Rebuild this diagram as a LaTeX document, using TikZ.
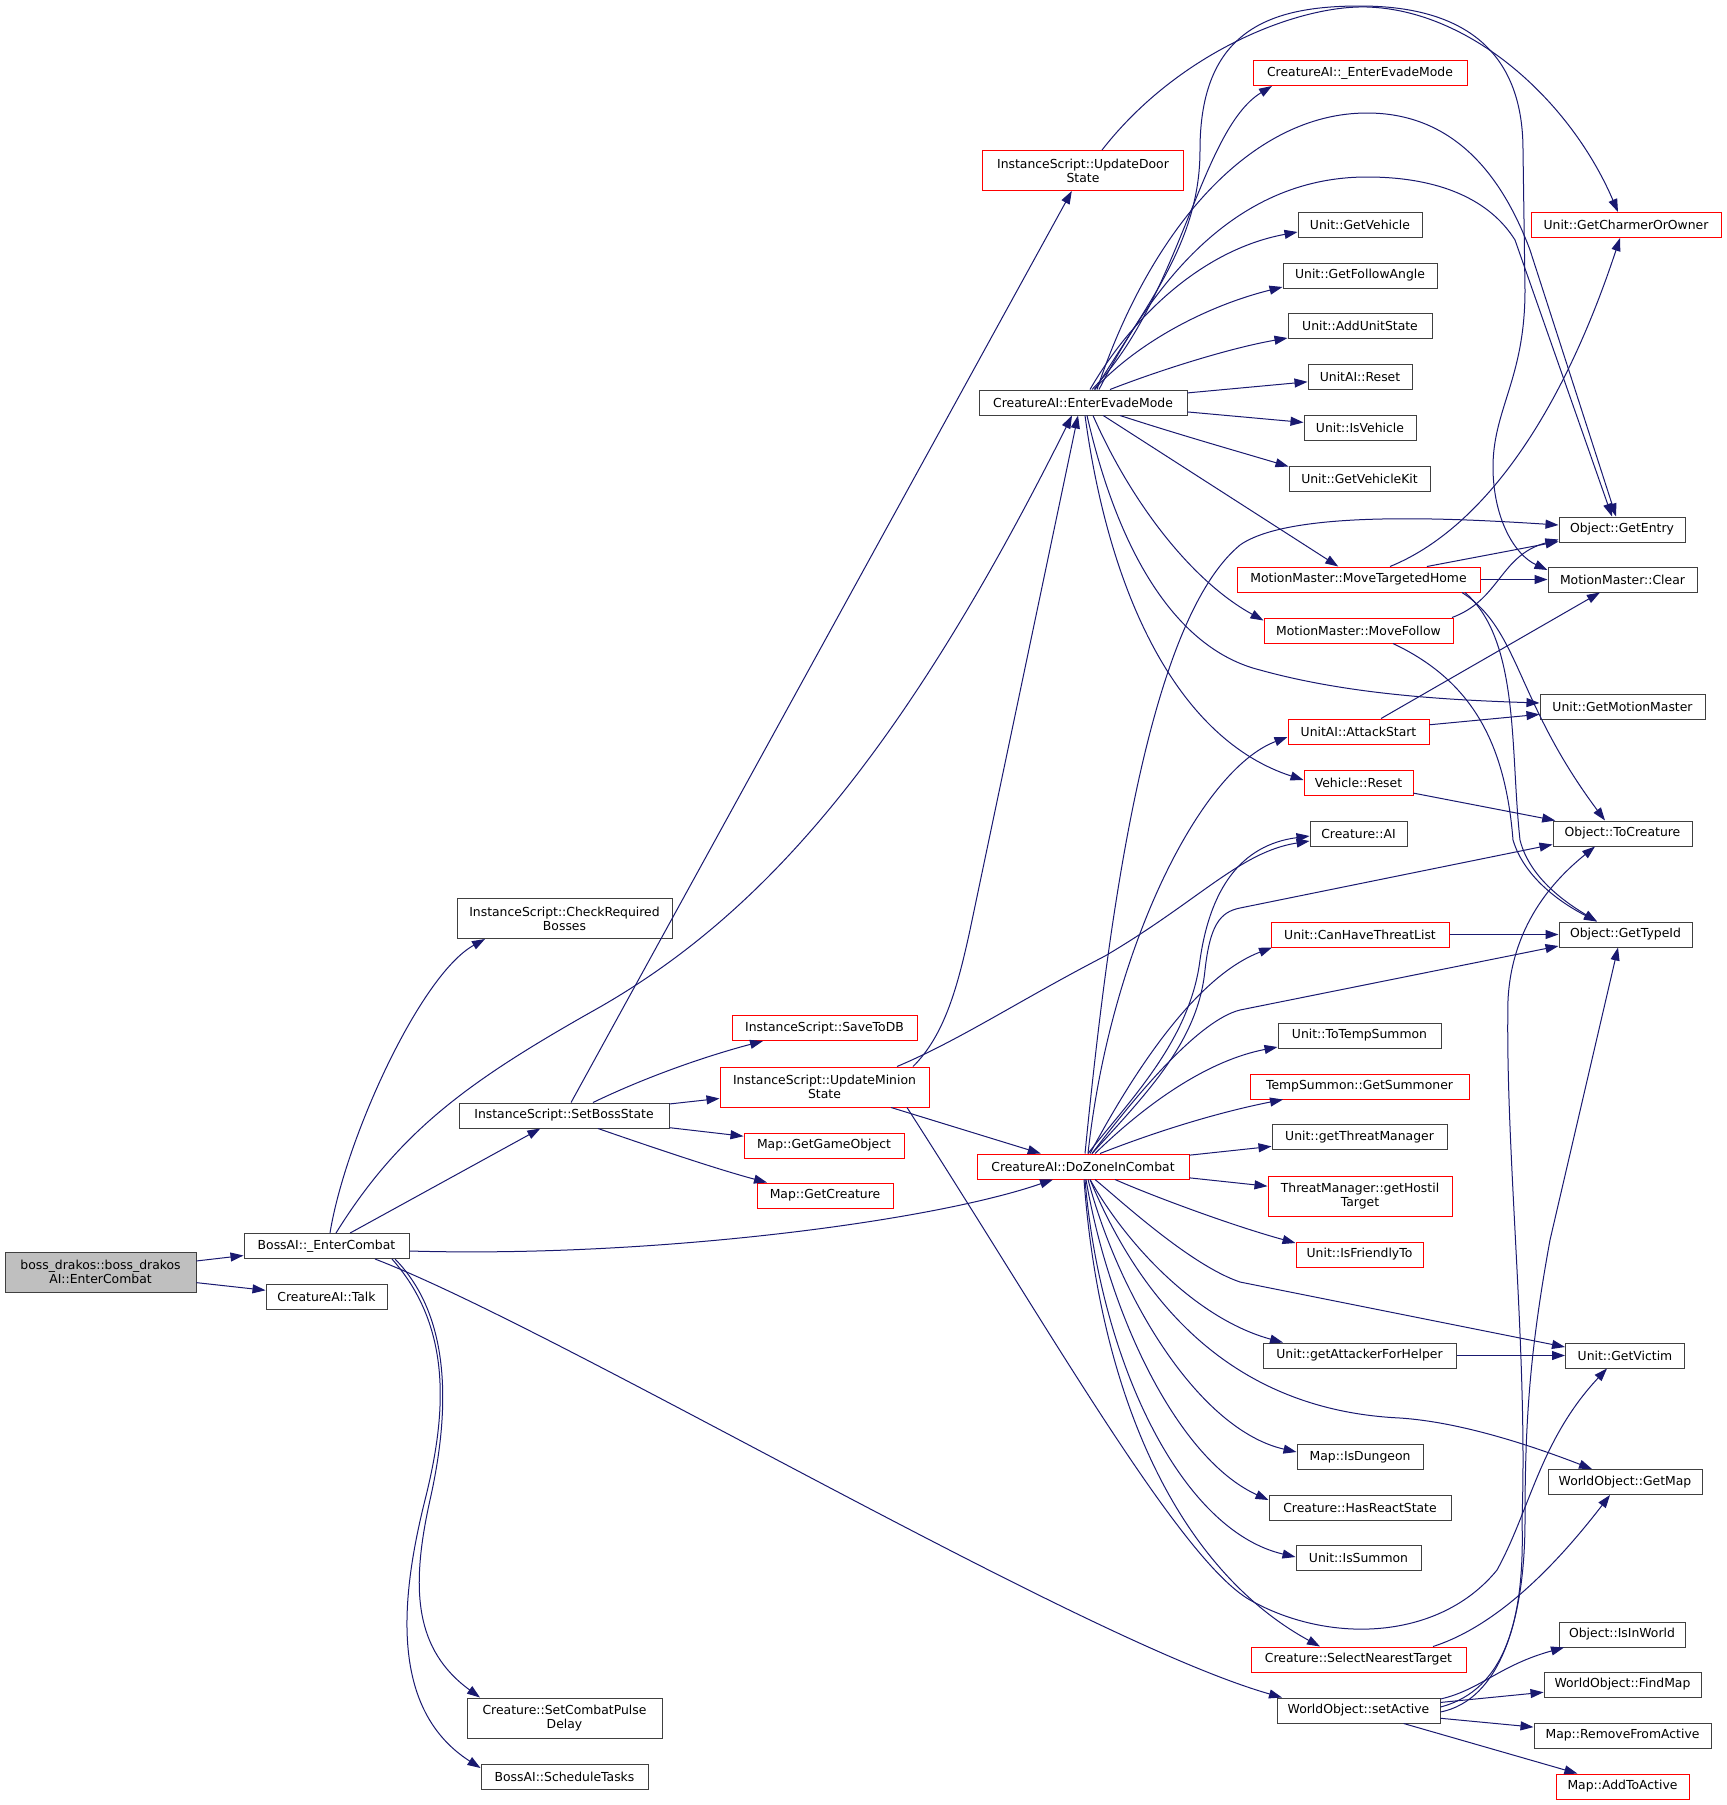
\documentclass[tikz,border=0pt]{standalone}
\usepackage{fontspec}
\setmainfont{DejaVu Sans}
\usetikzlibrary{arrows.meta}
\definecolor{edgeblue}{HTML}{191970}
\definecolor{nodeedge}{HTML}{404040}
\definecolor{rootgray}{HTML}{BFBFBF}
\definecolor{linkred}{HTML}{FF0000}

\begin{document}
\begin{tikzpicture}[x=1pt,y=-1pt,->,>={Triangle[length=13pt,width=9pt]},draw=edgeblue,line width=1pt,
    font=\fontsize{12.4}{14}\selectfont]
    \tikzstyle{func}=[draw=nodeedge,fill=white,minimum height=25pt,inner xsep=3pt,inner ysep=1pt,align=center]
    \tikzstyle{ref func}=[func,draw=linkred]
    \tikzstyle{root func}=[func,fill=rootgray]
    \tikzstyle{two lines}=[minimum height=40pt]
    \tikzset{wd/.style={minimum width=#1pt}}

    \useasboundingbox[fill=white] (0,0) rectangle (1727,1805);

    % Draw the caller and its direct callees
    \node[root func,two lines,wd=191] (root) at (100.5,1272) {boss\_drakos::boss\_drakos\\AI::EnterCombat};
    \node[func,wd=165] (bec) at (326.5,1246) {BossAI::\_EnterCombat};
    \node[func,wd=121] (talk) at (326.5,1297) {CreatureAI::Talk};

    % Draw the callees of BossAI::_EnterCombat
    \node[func,two lines,wd=215] (crb) at (564.5,918.5) {InstanceScript::CheckRequired\\Bosses};
    \node[func,wd=210] (sbs) at (564,1115.5) {InstanceScript::SetBossState};
    \node[func,two lines,wd=195] (cpd) at (564.5,1718) {Creature::SetCombatPulse\\Delay};
    \node[func,wd=167] (st) at (564.5,1777) {BossAI::ScheduleTasks};

    % Draw the callees of InstanceScript::SetBossState
    \node[ref func,wd=185] (sdb) at (824.5,1028) {InstanceScript::SaveToDB};
    \node[ref func,two lines,wd=209] (ums) at (824.5,1087) {InstanceScript::UpdateMinion\\State};
    \node[ref func,wd=160] (ggo) at (824,1145.5) {Map::GetGameObject};
    \node[ref func,wd=136] (gcr) at (825,1195.5) {Map::GetCreature};
    \node[ref func,two lines,wd=201] (uds) at (1083,170.5) {InstanceScript::UpdateDoor\\State};

    % Draw the middle column
    \node[func,wd=208] (eem) at (1083,402.5) {CreatureAI::EnterEvadeMode};
    \node[ref func,wd=212] (dzc) at (1083,1166.5) {CreatureAI::DoZoneInCombat};

    % Draw the second to last column
    \node[ref func,wd=214] (ueem) at (1360,73) {CreatureAI::\_EnterEvadeMode};
    \node[func,wd=124] (gveh) at (1360,225) {Unit::GetVehicle};
    \node[func,wd=154] (gfa) at (1360,275.5) {Unit::GetFollowAngle};
    \node[func,wd=144] (aus) at (1360,326) {Unit::AddUnitState};
    \node[func,wd=104] (uar) at (1360,377) {UnitAI::Reset};
    \node[func,wd=112] (isv) at (1360,427.5) {Unit::IsVehicle};
    \node[func,wd=141] (gvk) at (1359.5,478.5) {Unit::GetVehicleKit};
    \node[ref func,wd=243] (mth) at (1358.5,579.5) {MotionMaster::MoveTargetedHome};
    \node[ref func,wd=189] (mfol) at (1358.5,630.5) {MotionMaster::MoveFollow};
    \node[ref func,wd=141] (atk) at (1358.5,731.5) {UnitAI::AttackStart};
    \node[ref func,wd=109] (vres) at (1358.5,782.5) {Vehicle::Reset};
    \node[func,wd=97] (cai) at (1358.5,833.5) {Creature::AI};
    \node[ref func,wd=178] (cht) at (1360,934.5) {Unit::CanHaveThreatList};
    \node[func,wd=163] (tts) at (1359.5,1035.5) {Unit::ToTempSummon};
    \node[ref func,wd=219] (gsum) at (1359.5,1086.5) {TempSummon::GetSummoner};
    \node[func,wd=175] (gtm) at (1359.5,1137) {Unit::getThreatManager};
    \node[ref func,two lines,wd=184] (ght) at (1360,1196) {ThreatManager::getHostil\\Target};
    \node[ref func,wd=127] (ift) at (1359.5,1254.5) {Unit::IsFriendlyTo};
    \node[func,wd=193] (gafh) at (1359.5,1355.5) {Unit::getAttackerForHelper};
    \node[func,wd=126] (isd) at (1360,1457) {Map::IsDungeon};
    \node[func,wd=182] (hrs) at (1360,1507.5) {Creature::HasReactState};
    \node[func,wd=125] (iss) at (1358.5,1558) {Unit::IsSummon};
    \node[ref func,wd=215] (snt) at (1358.5,1659.5) {Creature::SelectNearestTarget};
    \node[func,wd=163] (sact) at (1358.5,1710.5) {WorldObject::setActive};

    % Draw the last column
    \node[ref func,wd=190] (charmer) at (1626,225) {Unit::GetCharmerOrOwner};
    \node[func,wd=126] (gentry) at (1622,529.5) {Object::GetEntry};
    \node[func,wd=149] (clear) at (1622.5,579.5) {MotionMaster::Clear};
    \node[func,wd=165] (gmm) at (1622.5,706.5) {Unit::GetMotionMaster};
    \node[func,wd=139] (tocr) at (1622.5,833.5) {Object::ToCreature};
    \node[func,wd=133] (gtid) at (1625.5,934.5) {Object::GetTypeId};
    \node[func,wd=119] (gvic) at (1625,1355.5) {Unit::GetVictim};
    \node[func,wd=154] (gmap) at (1625,1482) {WorldObject::GetMap};
    \node[func,wd=126] (iiw) at (1622,1634.5) {Object::IsInWorld};
    \node[func,wd=157] (fmap) at (1622.5,1684.5) {WorldObject::FindMap};
    \node[func,wd=177] (rfa) at (1622.5,1735.5) {Map::RemoveFromActive};
    \node[ref func,wd=133] (ata) at (1622.5,1786.5) {Map::AddToActive};

    % Connect the straight calls
    \foreach \source/\dest in {root/bec,root/talk,bec/sbs,sbs/uds,sbs/ums,sbs/ggo,ums/dzc,
            eem/uar,eem/isv,eem/mth,mth/gentry,mth/clear,atk/clear,atk/gmm,vres/tocr,
            cht/gtid,dzc/gtm,dzc/ght,gafh/gvic,sact/fmap,sact/rfa,sact/ata}
        \path (\source) edge (\dest);

    % Calls of BossAI::_EnterCombat
    \draw ([xshift=3.5]bec.north) .. controls (345,1140) and (420,975) .. ([xshift=-79.5]crb.south);
    \draw ([xshift=9.5]bec.north) .. controls (400,1130) and (470,1080) .. (600,1007)
        .. controls (760,915) and (900,760) .. ([xshift=-11]eem.south);
    \draw ([yshift=-5]bec.east) .. controls (650,1258) and (930,1222) .. ([xshift=-30]dzc.south);
    \draw ([xshift=48.5]bec.south) .. controls (560,1330) and (1080,1640) .. ([xshift=-76.5]sact.north);
    \draw ([xshift=68.5]bec.south) .. controls (455,1320) and (448,1420) .. (430,1500)
        .. controls (410,1590) and (415,1650) .. ([xshift=-84.5]cpd.north);
    \draw ([xshift=65.5]bec.south) .. controls (455,1330) and (445,1420) .. (425,1500)
        .. controls (400,1600) and (390,1710) .. ([yshift=9]st.west);

    % Calls of InstanceScript::SetBossState
    \draw ([xshift=29]sbs.north) .. controls (650,1075) and (710,1055) .. ([xshift=-61.5]sdb.south);
    \draw ([xshift=34]sbs.south) .. controls (660,1150) and (720,1170) .. ([xshift=-58]gcr.north);

    % Calls of InstanceScript::UpdateMinionState
    \draw ([xshift=88.5]ums.north) .. controls (945,1035) and (958,985) .. (970,930) -- ([xshift=-5]eem.south);
    \draw ([xshift=72.5]ums.north) .. controls (960,1040) and (1020,1000) .. (1105,956)
        .. controls (1200,900) and (1240,852) .. ([yshift=-7.5]cai.west);
    \draw ([xshift=82.5]ums.south) .. controls (1050,1330) and (1180,1560) .. (1250,1600)
        .. controls (1330,1645) and (1440,1640) .. (1497,1570)
        .. controls (1530,1510) and (1540,1440) .. ([xshift=-18]gvic.south);

    % Call of InstanceScript::UpdateDoorState
    \draw ([xshift=19]uds.north) .. controls (1180,50) and (1300,5) .. (1367,7)
        .. controls (1470,10) and (1570,100) .. ([xshift=-8]charmer.north);

    % Calls of CreatureAI::EnterEvadeMode
    \draw ([xshift=9]eem.north) .. controls (1180,300) and (1200,130) .. ([xshift=-88]ueem.south);
    \draw ([xshift=7]eem.north) .. controls (1130,320) and (1200,250) .. ([yshift=-7]gveh.west);
    \draw ([xshift=11]eem.north) .. controls (1140,340) and (1210,305) .. ([yshift=-11.5]gfa.west);
    \draw ([xshift=27]eem.north) .. controls (1160,370) and (1230,348) .. ([yshift=-12]aus.west);
    \draw ([xshift=37]eem.south) .. controls (1180,435) and (1240,452) .. ([yshift=12]gvk.west);
    \draw ([xshift=10]eem.south) .. controls (1130,500) and (1190,580) .. ([yshift=10]mfol.west);
    \draw ([xshift=4]eem.south) .. controls (1120,560) and (1180,650) .. (1260,670)
        .. controls (1350,695) and (1450,700) .. ([yshift=3.5]gmm.west);
    \draw ([xshift=2]eem.south) .. controls (1110,600) and (1180,740) .. ([yshift=2.5]vres.west);
    \draw ([xshift=12]eem.north) .. controls (1150,300) and (1200,240) .. (1200,150)
        .. controls (1200,30) and (1270,6) .. (1360,6)
        .. controls (1450,6) and (1523,40) .. (1523,150) -- (1525,290)
        .. controls (1525,380) and (1492,410) .. (1493,470)
        .. controls (1494,520) and (1515,555) .. ([yshift=9.5]clear.west);
    \draw ([xshift=14]eem.north) .. controls (1150,230) and (1250,113) .. (1367,113)
        .. controls (1450,113) and (1500,170) .. (1530,250) -- ([xshift=-6]gentry.north);
    \draw ([xshift=16]eem.north) .. controls (1150,290) and (1230,177) .. (1367,177)
        .. controls (1440,177) and (1490,200) .. (1515,240) -- ([xshift=-10]gentry.north);

    % Calls of MotionMaster::MoveTargetedHome and MotionMaster::MoveFollow
    \draw ([xshift=31.5]mth.north) .. controls (1480,530) and (1560,420) .. ([xshift=-6]charmer.south);
    \draw ([xshift=103.5]mth.south) .. controls (1520,630) and (1515,700) .. ([xshift=-17.5]tocr.north);
    \draw ([xshift=106.5]mth.south) .. controls (1520,640) and (1510,750) .. (1520,840)
        .. controls (1530,880) and (1570,905) .. ([xshift=-28.5]gtid.north);
    \draw ([xshift=34.5]mfol.south) .. controls (1470,680) and (1505,740) .. (1513,840)
        .. controls (1525,880) and (1565,905) .. ([xshift=-28.5]gtid.north);
    \draw ([xshift=93.5]mfol.north) .. controls (1500,600) and (1500,555) .. ([yshift=-10]gentry.west);

    % Calls of Creature::SelectNearestTarget and WorldObject::setActive
    \draw ([xshift=74.5]snt.north) .. controls (1500,1625) and (1560,1560) .. ([xshift=-15]gmap.south);
    \draw ([yshift=11.5]sact.east) .. controls (1480,1690) and (1500,1665) .. ([xshift=-58]iiw.south);
    \draw ([yshift=3.5]sact.east) .. controls (1505,1690) and (1525,1620) .. (1522,1520)
        .. controls (1528,1350) and (1505,1150) .. (1508,1000)
        .. controls (1512,920) and (1560,875) .. ([xshift=-27.5]tocr.south);
    \draw ([yshift=-1.5]sact.east) .. controls (1500,1700) and (1525,1620) .. (1525,1520)
        .. controls (1525,1420) and (1530,1350) .. (1550,1240) -- ([xshift=-7.5]gtid.south);

    % Calls of CreatureAI::DoZoneInCombat
    \draw ([xshift=2]dzc.north) .. controls (1110,900) and (1150,620) .. (1240,545)
        .. controls (1290,510) and (1450,518) .. ([yshift=4.5]gentry.west);
    \draw ([xshift=5]dzc.north) .. controls (1110,950) and (1200,770) .. ([yshift=-5.5]atk.west);
    \draw ([xshift=5]dzc.north) .. controls (1130,1100) and (1190,1040) .. (1200,960)
        .. controls (1210,890) and (1240,845) .. ([yshift=-2.5]cai.west);
    \draw ([xshift=9]dzc.north) .. controls (1150,1090) and (1198,1040) .. (1205,970)
        .. controls (1210,925) and (1220,912) .. (1240,908) -- ([yshift=-11]tocr.west);
    \draw ([xshift=7]dzc.north) .. controls (1140,1060) and (1200,975) .. ([xshift=-88]cht.south);
    \draw ([xshift=9]dzc.north) .. controls (1140,1090) and (1200,1020) .. (1240,1010) -- ([yshift=-11.5]gtid.west);
    \draw ([xshift=12]dzc.north) .. controls (1150,1100) and (1210,1060) .. ([yshift=-11.5]tts.west);
    \draw ([xshift=17]dzc.north) .. controls (1160,1130) and (1220,1112) .. ([xshift=-76.5]gsum.south);
    \draw ([xshift=32]dzc.south) .. controls (1150,1195) and (1230,1225) .. ([yshift=11.5]ift.west);
    \draw ([xshift=12]dzc.south) .. controls (1120,1200) and (1190,1265) .. (1240,1282) -- ([yshift=8.5]gvic.west);
    \draw ([xshift=7]dzc.south) .. controls (1130,1250) and (1200,1320) .. ([xshift=-76.5]gafh.north);
    \draw ([xshift=7]dzc.south) .. controls (1140,1300) and (1230,1410) .. (1400,1418)
        .. controls (1460,1422) and (1530,1445) .. ([xshift=-33]gmap.north);
    \draw ([xshift=5]dzc.south) .. controls (1120,1300) and (1200,1430) .. ([yshift=5]isd.west);
    \draw ([xshift=3]dzc.south) .. controls (1110,1320) and (1180,1460) .. ([yshift=7.5]hrs.west);
    \draw ([xshift=2]dzc.south) .. controls (1100,1360) and (1180,1530) .. ([yshift=1]iss.west);
    \draw ([xshift=1]dzc.south) .. controls (1100,1400) and (1180,1570) .. ([xshift=-38.5]snt.north);

\end{tikzpicture}
\end{document}
